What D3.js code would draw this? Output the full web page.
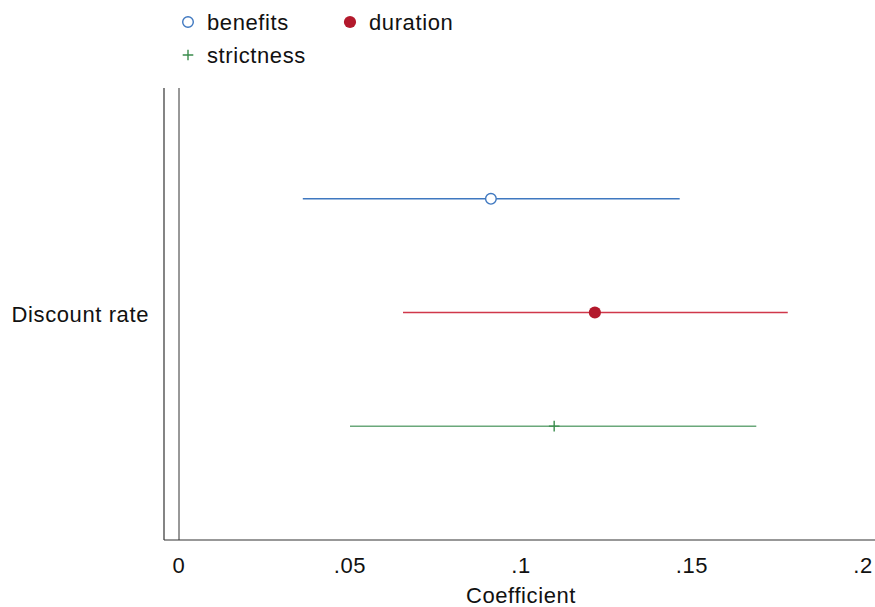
<!DOCTYPE html>
<html>
<head>
<meta charset="utf-8">
<script src="https://cdn.jsdelivr.net/npm/d3@7"></script>
<style>
  body { margin: 0; background: #fff; }
  text { font-family: "Liberation Sans", Arial, sans-serif; fill: #111; }
</style>
</head>
<body>
<div id="stage"></div>
<script>
const categories = ["Discount rate"];
const seriesNames = ["benefits", "duration", "strictness"];
const estimates = [0.0912, 0.1216, 0.1097];
const lowerCI = [0.0362, 0.0655, 0.0500];
const upperCI = [0.1464, 0.1780, 0.1688];
const xTicks = [0, 0.05, 0.1, 0.15, 0.2];
const xTickLabels = ["0", ".05", ".1", ".15", ".2"];
const colors = ["#3f78c0", "#b3192c", "#3a8c4c"];
const lineColors = ["#3f78c0", "#d0374a", "#6aa87a"];

const width = 875, height = 607;
const plotLeft = 164, plotRight = 875, plotTop = 88, plotBottom = 540;
const fs = 22;

const svg = d3.select("#stage").append("svg")
  .attr("width", width)
  .attr("height", height);

const x = d3.scaleLinear().domain([0, 0.2]).range([179, 863]);
const y = d3.scaleBand().domain(seriesNames).range([142, 483]);

// axes frame
svg.append("line")
  .attr("x1", plotLeft).attr("x2", plotLeft)
  .attr("y1", plotTop).attr("y2", plotBottom)
  .attr("stroke", "#333").attr("stroke-width", 1.2);
svg.append("line")
  .attr("x1", plotLeft).attr("x2", plotRight)
  .attr("y1", plotBottom).attr("y2", plotBottom)
  .attr("stroke", "#333").attr("stroke-width", 1.2);

// zero reference line
svg.append("line")
  .attr("x1", x(0)).attr("x2", x(0))
  .attr("y1", plotTop).attr("y2", plotBottom)
  .attr("stroke", "#333").attr("stroke-width", 1);

const label = (sel) => sel
  .attr("font-size", fs)
  .style("letter-spacing", "0.6px");

// x tick labels
svg.selectAll(".xtick").data(xTicks).enter().append("text")
  .attr("class", "xtick")
  .attr("x", d => x(d))
  .attr("y", 573)
  .attr("text-anchor", "middle")
  .call(label)
  .text((d, i) => xTickLabels[i]);

svg.append("text")
  .attr("x", x(0.1))
  .attr("y", 603)
  .attr("text-anchor", "middle")
  .call(label)
  .text("Coefficient");

// category label
svg.append("text")
  .attr("x", 149)
  .attr("y", (plotTop + plotBottom) / 2 + 8)
  .attr("text-anchor", "end")
  .call(label)
  .text(categories[0]);

const cy = d => y(d) + y.bandwidth() / 2;

// CI lines
svg.selectAll(".ci").data(seriesNames).enter().append("line")
  .attr("class", "ci")
  .attr("x1", (d, i) => x(lowerCI[i]))
  .attr("x2", (d, i) => x(upperCI[i]))
  .attr("y1", d => cy(d))
  .attr("y2", d => cy(d))
  .attr("stroke", (d, i) => lineColors[i])
  .attr("stroke-width", 1.5);

// markers
const drawMarker = (g, i, cx, cyy, r) => {
  if (i === 0) {
    g.append("circle").attr("cx", cx).attr("cy", cyy).attr("r", r)
      .attr("fill", "#fff").attr("stroke", colors[0]).attr("stroke-width", 1.4);
  } else if (i === 1) {
    g.append("circle").attr("cx", cx).attr("cy", cyy).attr("r", r + 0.8)
      .attr("fill", colors[1]);
  } else {
    g.append("path")
      .attr("d", `M${cx - r},${cyy}H${cx + r}M${cx},${cyy - r}V${cyy + r}`)
      .attr("stroke", colors[2]).attr("stroke-width", 1.4).attr("fill", "none");
  }
};

seriesNames.forEach((s, i) => drawMarker(svg, i, x(estimates[i]), cy(s), 5.3));

// legend
const legendPos = [[188, 22], [350, 22], [188, 55]];
seriesNames.forEach((s, i) => {
  drawMarker(svg, i, legendPos[i][0], legendPos[i][1], 5.3);
  svg.append("text")
    .attr("x", legendPos[i][0] + 19)
    .attr("y", legendPos[i][1] + 8)
    .call(label)
    .text(s);
});
</script>
</body>
</html>
